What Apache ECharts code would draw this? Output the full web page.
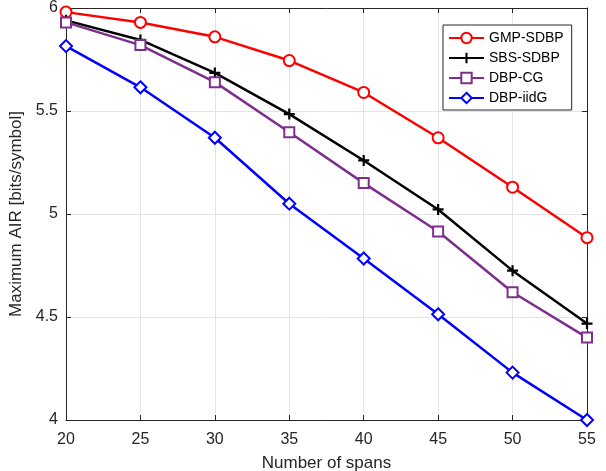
<!DOCTYPE html>
<html>
<head>
<meta charset="utf-8">
<script src="https://cdn.jsdelivr.net/npm/echarts@6/dist/echarts.min.js"></script>
<style>
html,body{margin:0;padding:0;background:#fff;}
#chart{width:606px;height:471px;}
</style>
</head>
<body>
<div id="chart"></div>
<script>
const spans = [20, 25, 30, 35, 40, 45, 50, 55];
const gmpSdbp = [5.98, 5.93, 5.86, 5.745, 5.59, 5.37, 5.13, 4.885];
const sbsSdbp = [5.94, 5.845, 5.685, 5.485, 5.26, 5.022, 4.725, 4.468];
const dbpCg   = [5.93, 5.82, 5.64, 5.397, 5.15, 4.915, 4.62, 4.40];
const dbpIidG = [5.815, 5.615, 5.37, 5.05, 4.784, 4.513, 4.23, 4.0];
const seriesNames = ['GMP-SDBP', 'SBS-SDBP', 'DBP-CG', 'DBP-iidG'];
const xTicks = {min: 20, max: 55, step: 5};
const yTicks = {min: 4, max: 6, step: 0.5};

const FONT = 'Liberation Sans, Arial, Helvetica, sans-serif';
const AX = '#262626';
const plus = 'path://M4,0h2v4h4v2h-4v4h-2v-4h-4v-2h4z';

function pairs(vals) { return spans.map((s, i) => [s, vals[i]]); }

function mk(name, vals, color, symbol, size, filledSym) {
  return {
    name: name, type: 'line', data: pairs(vals),
    symbol: symbol, symbolSize: size, showSymbol: true,
    lineStyle: {color: color, width: 2.5},
    itemStyle: filledSym ? {color: color} : {color: color, borderColor: color, borderWidth: 2},
    emphasis: {disabled: true},
    z: 3
  };
}

const chart = echarts.init(document.getElementById('chart'), null, {renderer: 'canvas'});
const commonX = {type: 'value', min: xTicks.min, max: xTicks.max, interval: xTicks.step};
const commonY = {type: 'value', min: yTicks.min, max: yTicks.max, interval: yTicks.step};
chart.setOption({
  animation: false,
  backgroundColor: '#fff',
  grid: {left: 66, right: 19, top: 8, bottom: 51, containLabel: false, outerBoundsMode: 'none'},
  legend: {
    orient: 'vertical', left: 443, top: 25,
    padding: [6, 8, 5, 5], itemGap: 6, itemWidth: 35, itemHeight: 13,
    backgroundColor: '#fff', borderColor: '#262626', borderWidth: 1,
    textStyle: {fontFamily: FONT, fontSize: 14, color: '#000'},
    data: seriesNames
  },
  xAxis: [
    Object.assign({}, commonX, {
      position: 'bottom',
      name: 'Number of spans', nameLocation: 'middle', nameGap: 35,
      nameTextStyle: {fontFamily: FONT, fontSize: 17, color: AX},
      axisLine: {show: true, lineStyle: {color: AX, width: 1}},
      axisTick: {show: true, inside: true, length: 5, lineStyle: {color: AX}},
      axisLabel: {fontFamily: FONT, fontSize: 16, color: AX, margin: 12},
      splitLine: {show: true, lineStyle: {color: '#e3e3e3', width: 1}}
    }),
    Object.assign({}, commonX, {
      position: 'top',
      axisLine: {show: true, lineStyle: {color: AX, width: 1}},
      axisTick: {show: true, inside: true, length: 5, lineStyle: {color: AX}},
      axisLabel: {show: false},
      splitLine: {show: false}
    })
  ],
  yAxis: [
    Object.assign({}, commonY, {
      position: 'left',
      name: 'Maximum AIR [bits/symbol]', nameLocation: 'middle', nameGap: 34,
      nameTextStyle: {fontFamily: FONT, fontSize: 17, color: AX},
      axisLine: {show: true, lineStyle: {color: AX, width: 1}},
      axisTick: {show: true, inside: true, length: 5, lineStyle: {color: AX}},
      axisLabel: {fontFamily: FONT, fontSize: 16, color: AX, margin: 8},
      splitLine: {show: true, lineStyle: {color: '#e3e3e3', width: 1}}
    }),
    Object.assign({}, commonY, {
      position: 'right',
      axisLine: {show: true, lineStyle: {color: AX, width: 1}},
      axisTick: {show: true, inside: true, length: 5, lineStyle: {color: AX}},
      axisLabel: {show: false},
      splitLine: {show: false}
    })
  ],
  series: [
    mk(seriesNames[0], gmpSdbp, '#ff0000', 'emptyCircle', 11, false),
    mk(seriesNames[1], sbsSdbp, '#000000', plus, 11, true),
    mk(seriesNames[2], dbpCg, '#7e2f8e', 'emptyRect', 10, false),
    mk(seriesNames[3], dbpIidG, '#0000ff', 'emptyDiamond', 12, false)
  ]
});
</script>
</body>
</html>
